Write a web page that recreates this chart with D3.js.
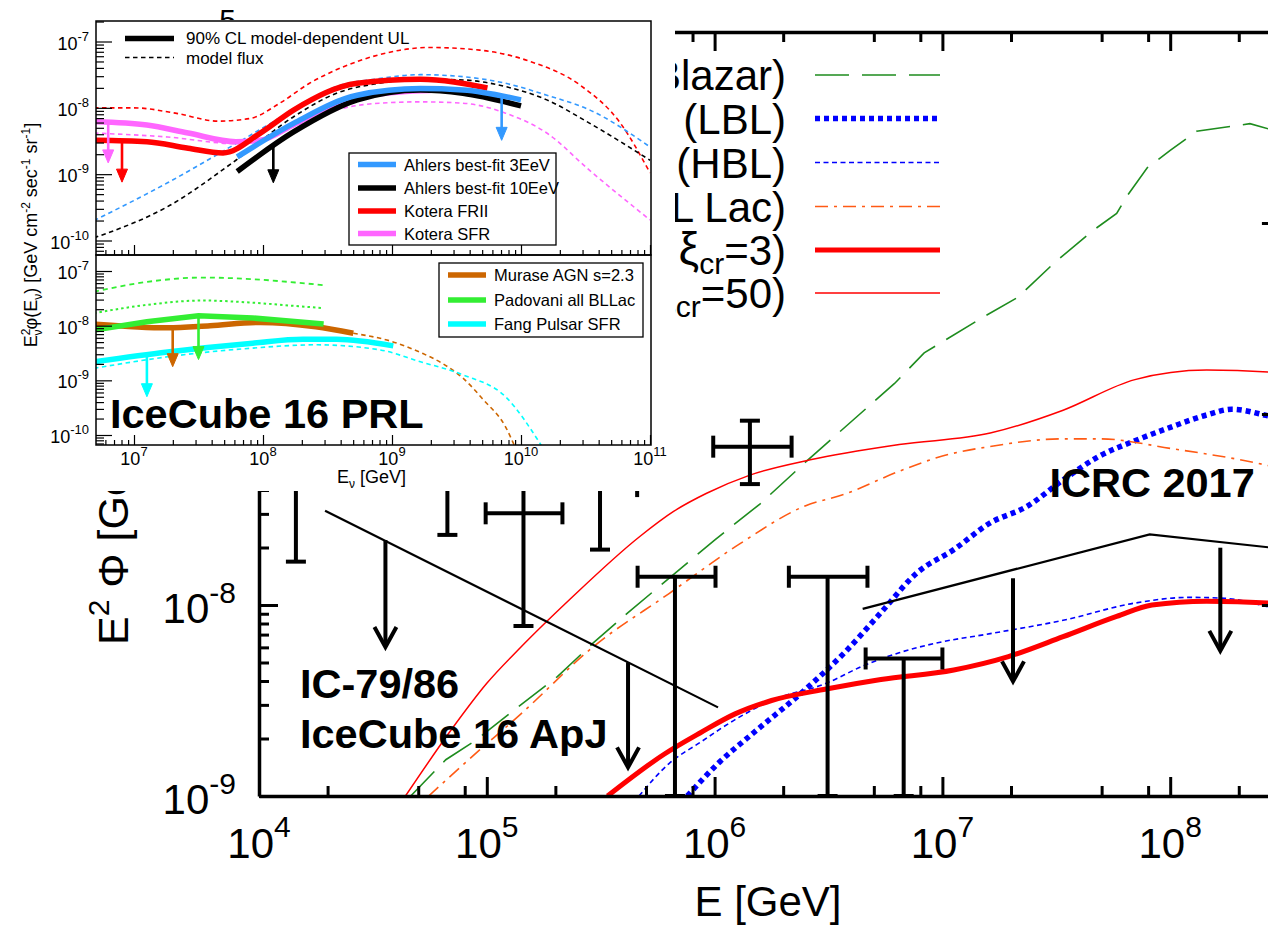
<!DOCTYPE html>
<html>
<head>
<meta charset="utf-8">
<script src="https://cdn.jsdelivr.net/npm/d3@7"></script>
<style>
  body { margin: 0; background: #fff; }
  svg { display: block; }
  text { font-family: "Liberation Sans", Arial, Helvetica, sans-serif; fill: #000; }
</style>
</head>
<body>
<svg id="chart" width="1268" height="926"></svg>
<script>
// ---------------------------------------------------------------
// Main panel: pairs are [log10(E / GeV), log10(E^2 Phi / GeV cm^-2 s^-1 sr^-1)]
// ---------------------------------------------------------------
const blazarAll = [[4.666,-9],[4.82,-8.81],[4.95,-8.71],[5.12,-8.55],[5.31,-8.375],[5.466,-8.2],[5.62,-8.04],
  [5.81,-7.85],[6.0,-7.66],[6.2,-7.47],[6.41,-7.24],[6.79,-6.84],[6.92,-6.68],[7.19,-6.485],[7.33,-6.39],
  [7.49,-6.21],[7.66,-6.04],[7.765,-5.95],[7.81,-5.86],[7.9,-5.71],[8.0,-5.62],[8.116,-5.52],[8.35,-5.48],[8.5,-5.53]];
const lblFlux = [[5.88,-9.0],[6.015,-8.83],[6.17,-8.67],[6.41,-8.43],[6.57,-8.25],[6.73,-8.04],[6.89,-7.83],
  [7.05,-7.71],[7.21,-7.57],[7.37,-7.485],[7.53,-7.345],[7.69,-7.22],[7.845,-7.14],[8.0,-7.07],[8.16,-7.005],
  [8.27,-6.975],[8.43,-7.01],[8.5,-7.03]];
const hblFlux = [[5.668,-9.0],[5.8,-8.83],[5.936,-8.72],[6.09,-8.6],[6.25,-8.5],[6.49,-8.41],[6.65,-8.32],
  [6.81,-8.25],[6.97,-8.2],[7.21,-8.15],[7.53,-8.08],[7.845,-7.99],[8.08,-7.96],[8.24,-7.965],[8.43,-8.01],[8.5,-8.03]];
const blLacFlux = [[4.745,-9],[4.92,-8.81],[5.15,-8.57],[5.466,-8.22],[5.8,-7.94],[6.11,-7.68],[6.4,-7.48],
  [6.57,-7.42],[6.81,-7.3],[7.0,-7.22],[7.21,-7.17],[7.53,-7.13],[7.69,-7.13],[8.0,-7.18],[8.43,-7.27],[8.5,-7.29]];
const fsrqXi3 = [[5.53,-9],[5.78,-8.78],[5.936,-8.67],[6.09,-8.57],[6.25,-8.5],[6.49,-8.44],[6.73,-8.39],
  [7.05,-8.34],[7.29,-8.27],[7.53,-8.166],[7.765,-8.06],[7.92,-8.0],[8.16,-7.98],[8.43,-7.99],[8.5,-8.0]];
const fsrqXi50 = [[4.643,-9],[4.84,-8.66],[5.0,-8.41],[5.15,-8.22],[5.365,-7.97],[5.673,-7.64],[5.82,-7.51],
  [5.965,-7.415],[6.155,-7.32],[6.42,-7.24],[6.81,-7.16],[7.21,-7.1],[7.53,-6.98],[7.845,-6.82],[8.16,-6.77],
  [8.43,-6.78],[8.5,-6.79]];
// legend entries: [lead text, greek symbol, subscript, tail]
const legendLabels = [
  ["(Blazar)"],
  ["(LBL)"],
  ["(HBL)"],
  ["(BL Lac)"],
  ["(", "ξ", "cr", "=3)"],
  ["(", "ξ", "cr", "=50)"]
];
// upper limits: straight segments and arrows [log10 E, top, bottom]
const ic7986Limit = [[4.29,-7.506],[6.015,-8.536]];
const ic7986Arrows = [[4.555,-7.66,-8.22],[5.62,-8.30,-8.85]];
const icrc2017Limit = [[6.65,-8.02],[7.91,-7.63],[8.6,-7.72]];
const icrc2017Arrows = [[7.31,-7.86,-8.40],[8.22,-7.70,-8.24]];
// unfolded flux points (log10 values); eLo/eHi = energy bin, vLo/vHi = flux range
const hesePoints = [
  {e:4.162, vLo:-7.773, vHi:-7.0},
  {e:4.827, vLo:-7.633, vHi:-7.0},
  {e:5.161, eLo:4.995, eHi:5.332, v:-7.52, vLo:-8.11, vHi:-7.0},
  {e:5.497, vLo:-7.71, vHi:-7.0},
  {e:5.66,  vLo:-7.435, vHi:-7.0, open:true},
  {e:6.155, eLo:5.994, eHi:6.338, v:-7.171, vLo:-7.367, vHi:-7.035},
  {e:5.826, eLo:5.662, eHi:6.004, v:-7.852, vLo:-9.0, vHi:-7.852},
  {e:6.496, eLo:6.326, eHi:6.671, v:-7.852, vLo:-9.0, vHi:-7.852},
  {e:6.83,  eLo:6.663, eHi:7.0,   v:-8.28,  vLo:-9.0, vHi:-8.28}
];
const xMajorMain = [4,5,6,7,8];
const yMajorMain = [-9,-8,-7,-6,-5];
const yLabelled = [-9,-8,-5];

// ---------------------------------------------------------------
// Inset (IceCube 16 PRL): same log10 pairs
// ---------------------------------------------------------------
const kFRIImodel = [[6.69,-8.0],[7.0,-8.0],[7.32,-8.08],[7.65,-8.2],[7.9,-8.16],[8.13,-7.93],[8.36,-7.63],
  [8.6,-7.4],[8.9,-7.2],[9.29,-7.09],[9.68,-7.13],[10.07,-7.3],[10.46,-7.66],[10.77,-8.23],[11.0,-8.98]];
const ahlers3model = [[6.69,-9.7],[7.26,-9.13],[7.79,-8.54],[8.24,-8.03],[8.57,-7.68],[8.9,-7.56],[9.22,-7.5],
  [9.55,-7.53],[9.88,-7.63],[10.2,-7.81],[10.53,-8.03],[11.0,-8.59]];
const ahlers10model = [[6.69,-9.96],[7.26,-9.49],[7.79,-8.79],[8.24,-8.13],[8.57,-7.78],[8.9,-7.63],[9.22,-7.57],
  [9.55,-7.58],[9.88,-7.68],[10.2,-7.88],[10.53,-8.23],[11.0,-8.79]];
const kSFRmodel = [[6.69,-8.38],[7.26,-8.44],[7.79,-8.54],[8.24,-8.28],[8.57,-8.03],[8.9,-7.93],[9.22,-7.91],
  [9.55,-7.93],[9.88,-8.08],[10.2,-8.38],[10.53,-8.94],[11.0,-9.69]];
const kFRIIul = [[6.69,-8.49],[7.1,-8.51],[7.42,-8.61],[7.69,-8.68],[7.98,-8.38],[8.24,-8.03],[8.73,-7.63],[9.22,-7.57],[9.74,-7.7]];
const kSFRul = [[6.69,-8.21],[7.1,-8.26],[7.42,-8.38],[7.79,-8.51],[7.98,-8.49],[8.24,-8.25],[8.57,-7.93],[9.06,-7.76],[9.3,-7.74]];
const ahlers3ul = [[7.8,-8.74],[8.24,-8.23],[8.73,-7.81],[9.22,-7.71],[9.55,-7.73],[10.0,-7.88]];
const ahlers10ul = [[7.8,-8.96],[8.24,-8.36],[8.73,-7.88],[9.22,-7.73],[9.55,-7.78],[10.0,-7.97]];
const upperArrows = [[6.907,-8.49,-9.12],[6.80,-8.21,-8.83],[9.85,-7.84,-8.49],[8.08,-8.56,-9.13]];

const padovaniModel = [[6.69,-7.38],[7.1,-7.2],[7.53,-7.12],[7.92,-7.15],[8.25,-7.21],[8.47,-7.26]];
const padovaniAlt = [[6.69,-7.77],[7.1,-7.62],[7.53,-7.54],[7.92,-7.58],[8.25,-7.64],[8.47,-7.68]];
const padovaniUl = [[6.69,-8.08],[7.1,-7.93],[7.5,-7.82],[7.92,-7.86],[8.47,-7.97]];
const muraseUl = [[6.69,-7.97],[7.26,-8.04],[7.59,-8.0],[7.98,-7.94],[8.41,-8.02],[8.7,-8.14]];
const muraseModel = [[8.7,-8.14],[9.0,-8.29],[9.23,-8.5],[9.39,-8.69],[9.55,-8.96],[9.71,-9.36],[9.88,-9.85],[9.95,-10.2]];
const fangUl = [[6.69,-8.66],[7.26,-8.48],[7.92,-8.32],[8.31,-8.25],[8.57,-8.25],[9.01,-8.37]];
const fangModel = [[6.69,-8.78],[7.26,-8.57],[7.92,-8.41],[8.41,-8.35],[8.9,-8.44],[9.22,-8.66],[9.55,-8.9],[9.88,-9.3],[10.16,-10.2]];
const lowerArrows = [[7.30,-8.02,-8.75],[7.50,-7.82,-8.62],[7.10,-8.55,-9.3]];
const upperLegend = ["Ahlers best-fit 3EeV","Ahlers best-fit 10EeV","Kotera FRII","Kotera SFR"];
const lowerLegend = ["Murase AGN s=2.3","Padovani all BLLac","Fang Pulsar SFR"];
const insetXMajor = [7,8,9,10,11];
const insetYMajor = [-10,-9,-8,-7];

// ---------------------------------------------------------------
const svg = d3.select("#chart");
svg.append("rect").attr("width",1268).attr("height",926).attr("fill","#fff");
const P = v => Math.pow(10, v);

// main scales: one decade in E = 227.8 px, one decade in flux = 191 px
const x = d3.scaleLog().domain([1e4, 1e8]).range([259, 1170.2]);
const y = d3.scaleLog().domain([1e-9, 1e-8]).range([796, 605]);
const X0 = x(1e4), X1 = x(P(8.486)), Y0 = y(1e-9), Y1 = y(1e-5);

const main = svg.append("g");
main.append("clipPath").attr("id","mainClip").append("rect")
  .attr("x",X0).attr("y",Y1).attr("width",X1-X0).attr("height",Y0-Y1);

const lineM = curve => d3.line().x(d => x(P(d[0]))).y(d => y(P(d[1]))).curve(curve);
const plotM = main.append("g").attr("clip-path","url(#mainClip)");

const mainSeries = [
  {data: blazarAll, color:"#1e8c1e", w:1.6, dash:"34,13", curve:d3.curveLinear},
  {data: lblFlux,   color:"#0000ff", w:5.5, dash:"5,4",   curve:d3.curveMonotoneX},
  {data: hblFlux,   color:"#0000ff", w:1.6, dash:"5,3.5", curve:d3.curveMonotoneX},
  {data: blLacFlux, color:"#ff5a14", w:1.6, dash:"13,6,3,6", curve:d3.curveMonotoneX},
  {data: fsrqXi3,   color:"#ff0000", w:5,   dash:null,    curve:d3.curveMonotoneX},
  {data: fsrqXi50,  color:"#ff0000", w:1.5, dash:null,    curve:d3.curveMonotoneX}
];
mainSeries.forEach(s => {
  plotM.append("path").attr("d", lineM(s.curve)(s.data))
    .attr("fill","none").attr("stroke",s.color).attr("stroke-width",s.w)
    .attr("stroke-dasharray",s.dash);
});

// limit lines
[ic7986Limit, icrc2017Limit].forEach(seg => {
  plotM.append("path").attr("d", lineM(d3.curveLinear)(seg))
    .attr("fill","none").attr("stroke","#000").attr("stroke-width",2.2);
});
function arrowMain(a) {
  const ax = x(P(a[0])), y1 = y(P(a[1])), y2 = y(P(a[2]));
  plotM.append("line").attr("x1",ax).attr("x2",ax).attr("y1",y1).attr("y2",y2-1)
    .attr("stroke","#000").attr("stroke-width",4);
  plotM.append("path").attr("d",`M${ax-11},${y2-20}L${ax},${y2}L${ax+11},${y2-20}`)
    .attr("fill","none").attr("stroke","#000").attr("stroke-width",4).attr("stroke-linejoin","miter");
}
ic7986Arrows.concat(icrc2017Arrows).forEach(arrowMain);

// flux points
const eb = plotM.append("g").attr("stroke","#000").attr("stroke-width",4).attr("fill","none");
hesePoints.forEach(p => {
  const px = x(P(p.e)), yLo = y(P(p.vLo)), yHi = y(P(p.vHi));
  eb.append("line").attr("x1",px).attr("x2",px).attr("y1",yHi).attr("y2",yLo);
  if (!p.open)
    eb.append("line").attr("x1",px-10).attr("x2",px+10).attr("y1",yLo).attr("y2",yLo);
  if (!p.open && (p.v === undefined || p.vHi > p.v))
    eb.append("line").attr("x1",px-10).attr("x2",px+10).attr("y1",yHi).attr("y2",yHi);
  if (p.eLo !== undefined) {
    const yc = y(P(p.v)), xl = x(P(p.eLo)), xr = x(P(p.eHi));
    eb.append("line").attr("x1",xl).attr("x2",xr).attr("y1",yc).attr("y2",yc);
    eb.append("line").attr("x1",xl).attr("x2",xl).attr("y1",yc-11).attr("y2",yc+11);
    eb.append("line").attr("x1",xr).attr("x2",xr).attr("y1",yc-11).attr("y2",yc+11);
  }
});

// text annotations in the main panel
const boldText = (g, tx, ty, str, fs) => g.append("text").attr("x",tx).attr("y",ty)
  .attr("font-weight","bold").attr("font-size",fs).text(str);
boldText(main, x(P(4.18)), y(P(-8.487)), "IC-79/86", 41.5);
boldText(main, x(P(4.18)), y(P(-8.75)), "IceCube 16 ApJ", 41.5);
boldText(main, x(P(7.47)), y(P(-7.435)), "ICRC 2017", 41.5);

// main axes: ticks point inward
const minorsFor = (lo, hi, mult) => {
  const out = [];
  for (let d = lo; d < hi; d++) mult.forEach(m => out.push(m * P(d)));
  return out;
};
const xMinor = minorsFor(4, 9, [2,5,8]).filter(v => v < P(8.486));
const yMinor = minorsFor(-9, -5, [2,3,4,5,6,7,8,9]);
const axStyle = g => {
  g.selectAll("path.domain").attr("stroke","#000").attr("stroke-width",3.5);
  g.selectAll(".tick line").attr("stroke","#000").attr("stroke-width",3);
  g.selectAll(".tick text").remove();
};
function drawAxis(gen, tx, ty, values, size, showDomain) {
  const g = main.append("g").attr("transform",`translate(${tx},${ty})`)
    .call(gen.tickValues(values).tickSize(size).tickSizeOuter(0).tickFormat(""));
  axStyle(g);
  if (!showDomain) g.select("path.domain").remove();
}
const xMaj = xMajorMain.map(P), yMaj = yMajorMain.map(P);
const xs = x.copy().domain([1e4, P(8.486)]).range([X0, X1]);
drawAxis(d3.axisBottom(xs), 0, Y0, xMaj, -19, true);
drawAxis(d3.axisBottom(xs), 0, Y0, xMinor, -10, false);
drawAxis(d3.axisTop(xs), 0, Y1, xMaj, -19, true);
drawAxis(d3.axisTop(xs), 0, Y1, xMinor, -10, false);
const ys = y.copy().domain([1e-9, 1e-5]).range([Y0, Y1]);
drawAxis(d3.axisLeft(ys), X0, 0, yMaj, -19, true);
drawAxis(d3.axisLeft(ys), X0, 0, yMinor, -10, false);
drawAxis(d3.axisRight(ys), X1, 0, yMaj, -19, true);
drawAxis(d3.axisRight(ys), X1, 0, yMinor, -10, false);

function powerLabel(g, tx, ty, exp, fs, sfs, dy, anchor) {
  const t = g.append("text").attr("x",tx).attr("y",ty).attr("font-size",fs).attr("text-anchor",anchor);
  t.append("tspan").text("10");
  t.append("tspan").attr("font-size",sfs).attr("dy",dy).text(exp);
  return t;
}
xMajorMain.forEach(d => powerLabel(main, x(P(d)), 858, String(d), 42, 30, -21, "middle"));
yLabelled.forEach(d => powerLabel(main, 236, y(P(d)) + 18, String(d), 42, 30, -20, "end"));

main.append("text").attr("x",768).attr("y",916).attr("font-size",42)
  .attr("text-anchor","middle").text("E [GeV]");
const yt = main.append("text").attr("transform","translate(128,645) rotate(-90)").attr("font-size",43);
yt.append("tspan").text("E");
yt.append("tspan").attr("font-size",30).attr("dy",-19).text("2");
yt.append("tspan").attr("dy",19).text(" Φ [GeV]");

// main legend
const legRowY = [75, 118.5, 162.5, 206.5, 250, 293];
legendLabels.forEach((parts, i) => {
  const s = mainSeries[i];
  const ly = legRowY[i];
  main.append("line").attr("x1",815).attr("x2",940).attr("y1",ly).attr("y2",ly)
    .attr("stroke",s.color).attr("stroke-width",s.w).attr("stroke-dasharray",s.dash);
  const t = main.append("text").attr("x",786).attr("y",ly + 15).attr("font-size",42).attr("text-anchor","end");
  t.append("tspan").text(parts[0]);
  if (parts.length > 1) {
    t.append("tspan").attr("font-size",46).attr("dx",8).text(parts[1]);
    t.append("tspan").attr("font-size",30).attr("dy",9).text(parts[2]);
    t.append("tspan").attr("dy",-9).text(parts[3]);
  }
});

// ---------------------------------------------------------------
// Inset
// ---------------------------------------------------------------
const inset = svg.append("g");
inset.append("rect").attr("x",0).attr("y",20).attr("width",675).attr("height",471).attr("fill","#fff");

const IL = 96, IR = 651, UT = 21, UB = 255, LB = 445;
const xi = d3.scaleLog().domain([1e7, 1e10]).range([134, 521]);
const yu = d3.scaleLog().domain([1e-10, 1e-7]).range([240.5, 41.5]);
const yl = d3.scaleLog().domain([1e-10, 1e-7]).range([435, 271]);

inset.append("clipPath").attr("id","upClip").append("rect")
  .attr("x",IL).attr("y",UT).attr("width",IR-IL).attr("height",UB-UT);
inset.append("clipPath").attr("id","loClip").append("rect")
  .attr("x",IL).attr("y",UB).attr("width",IR-IL).attr("height",LB-UB);
const up = inset.append("g").attr("clip-path","url(#upClip)");
const lo = inset.append("g").attr("clip-path","url(#loClip)");

const lineI = (ys2, curve) => d3.line().x(d => xi(P(d[0]))).y(d => ys2(P(d[1]))).curve(curve || d3.curveMonotoneX);
const C = {ahl3:"#3399ff", ahl10:"#000000", frii:"#ff0000", sfr:"#ff66ff",
           murase:"#cc6600", padovani:"#33ee33", fang:"#00ffff"};
const dashed = (g, ys2, data, col, dash, w) => g.append("path").attr("d", lineI(ys2)(data))
  .attr("fill","none").attr("stroke",col).attr("stroke-width",w || 1.6).attr("stroke-dasharray",dash || "4.5,3.5");
const thick = (g, ys2, data, col, curve) => g.append("path").attr("d", lineI(ys2, curve)(data))
  .attr("fill","none").attr("stroke",col).attr("stroke-width",5.5);

dashed(up, yu, kFRIImodel, C.frii);
dashed(up, yu, ahlers3model, C.ahl3);
dashed(up, yu, ahlers10model, C.ahl10);
dashed(up, yu, kSFRmodel, C.sfr);
thick(up, yu, kSFRul, C.sfr);
thick(up, yu, kFRIIul, C.frii);
thick(up, yu, ahlers10ul, C.ahl10);
thick(up, yu, ahlers3ul, C.ahl3);

function arrowI(g, ys2, a, col) {
  const ax = xi(P(a[0])), y1 = ys2(P(a[1])), y2 = ys2(P(a[2]));
  g.append("line").attr("x1",ax).attr("x2",ax).attr("y1",y1).attr("y2",y2-8)
    .attr("stroke",col).attr("stroke-width",2.6);
  g.append("path").attr("d",`M${ax-5.5},${y2-13}L${ax},${y2}L${ax+5.5},${y2-13}Z`).attr("fill",col)
    .attr("stroke",col).attr("stroke-width",1);
}
[C.frii, C.sfr, C.ahl3, C.ahl10].forEach((c, i) => arrowI(up, yu, upperArrows[i], c));

dashed(lo, yl, padovaniModel, C.padovani, "5,4", 1.8);
dashed(lo, yl, padovaniAlt, C.padovani, "2.5,3", 2);
dashed(lo, yl, muraseModel, C.murase);
dashed(lo, yl, fangModel, C.fang);
thick(lo, yl, fangUl, C.fang);
thick(lo, yl, muraseUl, C.murase);
thick(lo, yl, padovaniUl, C.padovani, d3.curveLinear);
[C.murase, C.padovani, C.fang].forEach((c, i) => arrowI(lo, yl, lowerArrows[i], c));

// frames
inset.append("rect").attr("x",IL).attr("y",UT).attr("width",IR-IL).attr("height",UB-UT)
  .attr("fill","none").attr("stroke","#000").attr("stroke-width",1.5);
inset.append("rect").attr("x",IL).attr("y",UB).attr("width",IR-IL).attr("height",LB-UB)
  .attr("fill","none").attr("stroke","#000").attr("stroke-width",1.5);

// inset ticks
function insetTicks(gen, tx, ty, values, size) {
  const g = inset.append("g").attr("transform",`translate(${tx},${ty})`)
    .call(gen.tickValues(values).tickSize(size).tickSizeOuter(0).tickFormat(""));
  g.select("path.domain").remove();
  g.selectAll(".tick line").attr("stroke","#000").attr("stroke-width",1.2);
}
const inYMinorU = minorsFor(-11, -6, [2,3,4,5,6,7,8,9]).filter(v => yu(v) > UT && yu(v) < UB);
const inYMinorL = minorsFor(-11, -6, [2,3,4,5,6,7,8,9]).filter(v => yl(v) > UB && yl(v) < LB);
const inYMaj = insetYMajor.map(P);
insetTicks(d3.axisLeft(yu), IL, 0, inYMaj, -16);
insetTicks(d3.axisLeft(yu), IL, 0, inYMinorU, -8);
insetTicks(d3.axisLeft(yl), IL, 0, inYMaj, -16);
insetTicks(d3.axisLeft(yl), IL, 0, inYMinorL, -8);
const inXMinor = minorsFor(6, 11, [2,3,4,5,6,7,8,9]).filter(v => xi(v) > IL && xi(v) < IR);
insetTicks(d3.axisBottom(xi), 0, LB, insetXMajor.map(P), -10);
insetTicks(d3.axisBottom(xi), 0, LB, inXMinor, -5);
insetTicks(d3.axisBottom(xi), 0, UB, insetXMajor.map(P), -10);
insetTicks(d3.axisBottom(xi), 0, UB, inXMinor, -5);

insetYMajor.forEach(d => {
  powerLabel(inset, 89, yu(P(d)) + 8, String(d), 18, 13, -9, "end");
  powerLabel(inset, 89, yl(P(d)) + 8, String(d), 18, 13, -9, "end");
});
insetXMajor.forEach(d => powerLabel(inset, xi(P(d)), 465, String(d), 18, 13, -9, "middle"));

const ex = inset.append("text").attr("x",337).attr("y",483).attr("font-size",18);
ex.append("tspan").text("E");
ex.append("tspan").attr("font-size",12).attr("dy",5).text("ν");
ex.append("tspan").attr("dy",-5).text(" [GeV]");

const ey = inset.append("text").attr("transform","translate(37,235) rotate(-90)")
  .attr("font-size",18).attr("text-anchor","middle");
ey.append("tspan").text("E");
ey.append("tspan").attr("font-size",12).attr("dy",-7).text("2");
ey.append("tspan").attr("font-size",12).attr("dx",-7).attr("dy",12).text("ν");
ey.append("tspan").attr("dy",-5).text("φ(E");
ey.append("tspan").attr("font-size",12).attr("dy",5).text("ν");
ey.append("tspan").attr("dy",-5).text(") [GeV cm");
ey.append("tspan").attr("font-size",12).attr("dy",-7).text("-2");
ey.append("tspan").attr("dy",7).text(" sec");
ey.append("tspan").attr("font-size",12).attr("dy",-7).text("-1");
ey.append("tspan").attr("dy",7).text(" sr");
ey.append("tspan").attr("font-size",12).attr("dy",-7).text("-1");
ey.append("tspan").attr("dy",7).text("]");

// inset legends
inset.append("line").attr("x1",125).attr("x2",174).attr("y1",38.5).attr("y2",38.5)
  .attr("stroke","#000").attr("stroke-width",5.5);
inset.append("text").attr("x",186).attr("y",44).attr("font-size",17).text("90% CL model-dependent UL");
inset.append("line").attr("x1",125).attr("x2",174).attr("y1",57.5).attr("y2",57.5)
  .attr("stroke","#000").attr("stroke-width",1.5).attr("stroke-dasharray","4.5,3.5");
inset.append("text").attr("x",186).attr("y",63.5).attr("font-size",17).text("model flux");

function legendBox(x0, y0, x1, y1, rows, labels, cols) {
  inset.append("rect").attr("x",x0).attr("y",y0).attr("width",x1-x0).attr("height",y1-y0)
    .attr("fill","#fff").attr("stroke","#000").attr("stroke-width",1.3);
  labels.forEach((lab, i) => {
    inset.append("line").attr("x1",x0+9).attr("x2",x0+47).attr("y1",rows[i]).attr("y2",rows[i])
      .attr("stroke",cols[i]).attr("stroke-width",5.5);
    inset.append("text").attr("x",x0+55).attr("y",rows[i]+6).attr("font-size",16.5).text(lab);
  });
}
legendBox(349, 153, 556, 245, [164.5,188,211,233.5], upperLegend, [C.ahl3, C.ahl10, C.frii, C.sfr]);
legendBox(439, 263, 643, 337, [275,300,324], lowerLegend, [C.murase, C.padovani, C.fang]);

inset.append("text").attr("x",110).attr("y",428).attr("font-size",41.5).attr("font-weight","bold")
  .text("IceCube 16 PRL");
</script>
</body>
</html>
